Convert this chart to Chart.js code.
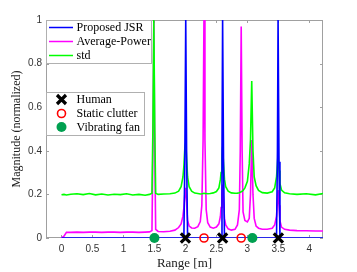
<!DOCTYPE html>
<html lang="en">
<head>
    <meta charset="UTF-8">
    <title>Range profile</title>
    <script src="https://cdn.jsdelivr.net/npm/chart.js"></script>
    <style>
        html, body { margin: 0; padding: 0; background: #fff; }
        #wrap { width: 357px; height: 272px; }
    </style>
</head>
<body>
<div id="wrap"><canvas id="rangeChart" width="357" height="272"></canvas></div>

<script>
    // range grid [m], denser around the peaks
    const rangeM = [
        0, 0.04, 0.08, 0.15, 0.25, 0.35, 0.45, 0.55, 0.65, 0.75, 0.85, 0.95, 1.05, 1.15, 1.25, 1.35, 1.42,
        1.46, 1.475, 1.49, 1.505, 1.52, 1.56, 1.65, 1.75, 1.83, 1.89,
        1.93, 1.96, 1.975, 1.99, 2.005, 2.02, 2.035, 2.06, 2.1, 2.15,
        2.2, 2.24, 2.265, 2.285, 2.3, 2.315, 2.335, 2.36, 2.4, 2.45,
        2.5, 2.54, 2.565, 2.575, 2.59, 2.6, 2.615, 2.63, 2.65, 2.69,
        2.74, 2.8, 2.84, 2.87, 2.885, 2.9, 2.915, 2.93, 2.96, 3.0,
        3.03, 3.05, 3.07, 3.09, 3.11, 3.14, 3.18, 3.24, 3.32, 3.4,
        3.44, 3.47, 3.485, 3.495, 3.51, 3.525, 3.55, 3.6, 3.68, 3.8,
        3.95, 4.1, 4.22
    ];
    const jsrMag = [
        0, 0, 0, 0, 0, 0, 0, 0, 0, 0, 0, 0, 0, 0, 0, 0, 0,
        0, 0, 0, 0, 0, 0, 0, 0, 0, 0,
        0, 0, 0, 0.35, 1, 0.35, 0, 0, 0, 0,
        0, 0, 0, 0, 0, 0, 0, 0, 0, 0,
        0, 0, 0, 0, 0.4, 1, 0.35, 0, 0, 0,
        0, 0, 0, 0, 0, 0, 0, 0, 0, 0,
        0, 0, 0, 0, 0, 0, 0, 0, 0, 0,
        0, 0, 0.4, 1, 0.35, 0, 0, 0, 0, 0,
        0, 0, 0
    ];
    const avgPowerMag = [
        0, 0.008, 0.026, 0.026, 0.027, 0.026, 0.027, 0.027, 0.026, 0.027, 0.027, 0.026, 0.027, 0.027, 0.026, 0.027, 0.028,
        0.034, 0.4, 1.0, 0.4, 0.04, 0.03, 0.029, 0.031, 0.036, 0.048,
        0.065, 0.1, 0.14, 0.2, 0.23, 0.15, 0.08, 0.055, 0.046, 0.045,
        0.052, 0.075, 0.15, 0.45, 1.05, 0.45, 0.13, 0.07, 0.05, 0.045,
        0.05, 0.065, 0.1, 0.14, 0.2, 0.245, 0.17, 0.09, 0.06, 0.042,
        0.036, 0.04, 0.06, 0.13, 0.4, 0.97, 0.4, 0.12, 0.08, 0.074,
        0.09, 0.2, 0.45, 0.2, 0.09, 0.055, 0.045, 0.04, 0.04, 0.045,
        0.06, 0.1, 0.17, 0.22, 0.15, 0.08, 0.05, 0.04, 0.036, 0.034,
        0.033, 0.032, 0.032
    ];
    const stdMag = [
        0.198, 0.2, 0.197, 0.201, 0.203, 0.199, 0.204, 0.198, 0.202, 0.197, 0.201, 0.199, 0.203, 0.197, 0.2, 0.196, 0.2,
        0.205, 0.5, 1.0, 0.5, 0.205, 0.2, 0.202, 0.203, 0.206, 0.215,
        0.235, 0.28, 0.33, 0.41, 0.44, 0.36, 0.28, 0.235, 0.215, 0.206,
        0.204, 0.202, 0.203, 0.204, 0.205, 0.204, 0.204, 0.203, 0.204, 0.207,
        0.213, 0.23, 0.27, 0.3, 0.37, 0.42, 0.34, 0.27, 0.235, 0.215,
        0.207, 0.205, 0.206, 0.208, 0.21, 0.212, 0.214, 0.218, 0.23, 0.26,
        0.34, 0.45, 0.72, 0.4, 0.28, 0.24, 0.218, 0.208, 0.206, 0.212,
        0.23, 0.28, 0.34, 0.39, 0.31, 0.25, 0.22, 0.207, 0.203, 0.2,
        0.203, 0.198, 0.204
    ];

    // ground truth positions [m]
    const humanRange = [2.0, 2.6, 3.5];
    const clutterRange = [2.3, 2.9];
    const fanRange = [1.5, 3.08];

    const xTickVals = [0, 0.5, 1, 1.5, 2, 2.5, 3, 3.5, 4];
    const yTickVals = [0, 0.2, 0.4, 0.6, 0.8, 1];

    const serif = '"Liberation Serif", "DejaVu Serif", serif';
    const sans = '"Liberation Sans", Arial, sans-serif';
    const fanGreen = '#00a050';

    function toPoints(ys) {
        return rangeM.map((x, i) => ({ x: x, y: ys[i] }));
    }
    function onAxis(xs) {
        return xs.map(x => ({ x: x, y: 0 }));
    }
    // matlab prints 0, 0.2, ... 1 (no trailing zeros)
    function shortNum(v) {
        return String(Math.round(v * 10) / 10);
    }

    // box, inward ticks and the two legends, matlab style
    const matlabFrame = {
        id: 'matlabFrame',
        beforeDatasetsDraw(chart) {
            const { ctx, chartArea: a, scales } = chart;
            ctx.save();
            ctx.strokeStyle = '#a0a0a0';
            ctx.lineWidth = 1;
            ctx.strokeRect(a.left + 0.5, a.top + 0.5, a.right - a.left - 1, a.bottom - a.top - 1);
            ctx.beginPath();
            xTickVals.forEach(v => {
                const px = Math.round(scales.x.getPixelForValue(v)) + 0.5;
                ctx.moveTo(px, a.bottom); ctx.lineTo(px, a.bottom - 3);
                ctx.moveTo(px, a.top); ctx.lineTo(px, a.top + 3);
            });
            yTickVals.forEach(v => {
                const py = Math.round(scales.y.getPixelForValue(v)) + 0.5;
                ctx.moveTo(a.left, py); ctx.lineTo(a.left + 3, py);
                ctx.moveTo(a.right, py); ctx.lineTo(a.right - 3, py);
            });
            ctx.stroke();
            ctx.restore();
        },
        afterDraw(chart) {
            const ctx = chart.ctx;
            ctx.save();
            ctx.font = '12px ' + serif;
            ctx.textBaseline = 'middle';

            // line legend
            ctx.fillStyle = '#fff';
            ctx.strokeStyle = '#b0b0b0';
            ctx.lineWidth = 1;
            ctx.fillRect(46.5, 20.5, 105, 43);
            ctx.strokeRect(46.5, 20.5, 105, 43);
            const lines = [['Proposed JSR', '#0000ff'], ['Average-Power', '#ff00ff'], ['std', '#00ff00']];
            lines.forEach((l, i) => {
                const y = 27.5 + i * 14;
                ctx.strokeStyle = l[1];
                ctx.lineWidth = 1.5;
                ctx.beginPath(); ctx.moveTo(49, y); ctx.lineTo(73, y); ctx.stroke();
                ctx.fillStyle = '#000';
                ctx.fillText(l[0], 76.5, y + 0.5);
            });

            // marker legend
            ctx.fillStyle = '#fff';
            ctx.strokeStyle = '#b0b0b0';
            ctx.lineWidth = 1;
            ctx.fillRect(46.5, 92.5, 98, 43);
            ctx.strokeRect(46.5, 92.5, 98, 43);
            const mx = 61.5;
            ctx.strokeStyle = '#000';
            ctx.lineWidth = 3.2;
            ctx.beginPath();
            ctx.moveTo(mx - 4.5, 99.5 - 4.5); ctx.lineTo(mx + 4.5, 99.5 + 4.5);
            ctx.moveTo(mx + 4.5, 99.5 - 4.5); ctx.lineTo(mx - 4.5, 99.5 + 4.5);
            ctx.stroke();
            ctx.strokeStyle = '#ff0000';
            ctx.lineWidth = 1.6;
            ctx.beginPath(); ctx.arc(mx, 113.5, 4, 0, Math.PI * 2); ctx.stroke();
            ctx.fillStyle = fanGreen;
            ctx.beginPath(); ctx.arc(mx, 127, 5, 0, Math.PI * 2); ctx.fill();
            ctx.fillStyle = '#000';
            ctx.fillText('Human', 76.5, 100);
            ctx.fillText('Static clutter', 76.5, 114);
            ctx.fillText('Vibrating fan', 76.5, 127.5);
            ctx.restore();
        }
    };

    const lineStyle = { showLine: true, pointRadius: 0, borderWidth: 1.6, tension: 0, fill: false };

    new Chart(document.getElementById('rangeChart'), {
        type: 'scatter',
        data: {
            datasets: [
                { label: 'Human', data: onAxis(humanRange), pointStyle: 'crossRot', pointRadius: 6.5,
                  borderColor: '#000', backgroundColor: '#000', pointBorderWidth: 3.2, clip: false },
                { label: 'Static clutter', data: onAxis(clutterRange), pointStyle: 'circle', pointRadius: 4,
                  borderColor: '#ff0000', backgroundColor: 'rgba(0,0,0,0)', pointBorderWidth: 1.6, clip: false },
                { label: 'Vibrating fan', data: onAxis(fanRange), pointStyle: 'circle', pointRadius: 5,
                  borderColor: fanGreen, backgroundColor: fanGreen, pointBorderWidth: 0, clip: false },
                Object.assign({ label: 'Proposed JSR', data: toPoints(jsrMag), borderColor: '#0000ff' }, lineStyle),
                Object.assign({ label: 'std', data: toPoints(stdMag), borderColor: '#00ff00' }, lineStyle),
                Object.assign({ label: 'Average-Power', data: toPoints(avgPowerMag), borderColor: '#ff00ff' }, lineStyle)
            ]
        },
        options: {
            responsive: false,
            animation: false,
            layout: { padding: { top: 20, right: 34, bottom: 0, left: 0 } },
            plugins: { legend: { display: false }, tooltip: { enabled: false } },
            scales: {
                x: {
                    type: 'linear',
                    min: -0.25,
                    max: 4.22,
                    afterBuildTicks: s => { s.ticks = xTickVals.map(v => ({ value: v })); },
                    afterFit: s => { s.height = 34; },
                    grid: { display: false, drawTicks: false },
                    border: { display: false },
                    ticks: { padding: 5, color: '#333', font: { family: sans, size: 10 }, maxRotation: 0,
                             callback: v => String(v) },
                    title: { display: true, text: 'Range [m]', color: '#222',
                             font: { family: serif, size: 13 }, padding: { top: 0, bottom: 1 } }
                },
                y: {
                    min: 0,
                    max: 1,
                    afterBuildTicks: s => { s.ticks = yTickVals.map(v => ({ value: v })); },
                    afterFit: s => { s.width = 46; },
                    grid: { display: false, drawTicks: false },
                    border: { display: false },
                    ticks: { padding: 4, color: '#333', font: { family: sans, size: 10 }, callback: shortNum },
                    title: { display: true, text: 'Magnitude (normalized)', color: '#222',
                             font: { family: serif, size: 12 }, padding: { top: 10, bottom: 0 } }
                }
            }
        },
        plugins: [matlabFrame]
    });
</script>
</body>
</html>
